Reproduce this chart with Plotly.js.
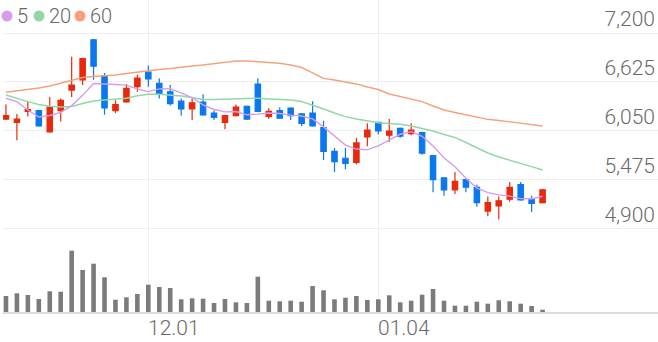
<!DOCTYPE html>
<html><head><meta charset="utf-8">
<script src="https://cdn.plot.ly/plotly-3.0.1.min.js"></script>
<style>html,body{margin:0;padding:0;background:#fff;}#chart{width:658px;height:342px;}</style>
</head><body><div id="chart"></div>
<script>
const dates = ['11.12','11.13','11.16','11.17','11.18','11.19','11.20','11.23','11.24','11.25','11.26','11.27','11.30',
'12.01','12.02','12.03','12.04','12.07','12.08','12.09','12.10','12.11','12.14','12.15','12.16','12.17','12.18','12.21','12.22','12.23','12.24','12.28','12.29','12.30',
'01.04','01.05','01.06','01.07','01.08','01.11','01.12','01.13','01.14','01.15','01.18','01.19','01.20','01.21','01.22','01.25'];
const open  = [6190,6150,6280,6290,6040,6290,6530,6650,7120,6700,6290,6390,6570,6740,6610,6510,6400,6310,6390,6260,6150,6230,6340,6600,6220,6290,6320,6250,6260,6090,5810,5730,5680,5980,6150,6000,6080,6020,6030,5760,5500,5360,5480,5390,5110,5170,5250,5420,5250,5210];
const high  = [6360,6250,6390,6300,6450,6430,6920,6910,7130,6730,6410,6600,6710,6820,6670,6590,6430,6430,6480,6290,6240,6360,6350,6670,6320,6330,6330,6260,6400,6170,5850,5850,5970,6140,6150,6190,6090,6140,6040,5760,5500,5570,5490,5420,5280,5280,5450,5450,5290,5370];
const low   = [6180,5940,6220,6100,6030,6160,6450,6590,6650,6240,6260,6380,6510,6570,6430,6350,6230,6180,6230,6180,6070,6220,6180,6270,6190,6200,6180,6110,6100,5710,5570,5600,5660,5870,6010,5920,5970,6000,5770,5330,5290,5310,5330,5160,5050,5010,5220,5230,5100,5200];
const close = [6230,6190,6300,6110,6330,6410,6590,6900,6810,6320,6360,6550,6670,6660,6480,6370,6310,6380,6240,6210,6230,6330,6190,6280,6280,6200,6230,6140,6110,5810,5690,5670,5910,6060,6050,6050,5990,6060,5790,5480,5360,5460,5390,5210,5210,5230,5390,5240,5200,5360];
const volume = [160000,187000,170000,130000,207000,203000,613000,420000,483000,347000,123000,147000,180000,273000,250000,240000,127000,137000,133000,90000,130000,97000,90000,353000,113000,107000,113000,103000,260000,217000,127000,143000,160000,120000,127000,167000,97000,113000,173000,230000,113000,63000,63000,103000,83000,117000,107000,83000,60000,23000];
const ma5  = [6434,6394,6296,6214,6232,6268,6348,6468,6608,6606,6596,6588,6542,6512,6544,6546,6498,6440,6356,6302,6274,6278,6240,6248,6262,6256,6236,6226,6192,6098,5996,5884,5838,5828,5876,5948,6012,6042,5988,5874,5736,5630,5496,5380,5326,5300,5286,5256,5254,5284];
const ma20 = [6472,6431,6394,6361,6340,6332,6338,6373,6402,6414,6420,6434,6464,6481,6481,6472,6461,6443,6420,6420,6423,6426,6431,6434,6426,6420,6414,6396,6355,6308,6261,6218,6191,6167,6147,6138,6129,6109,6082,6050,6009,5974,5915,5851,5792,5745,5710,5669,5631,5592];
const ma60 = [6504,6519,6535,6555,6578,6613,6649,6678,6690,6695,6707,6725,6742,6760,6772,6784,6801,6813,6825,6842,6860,6871,6871,6860,6852,6845,6825,6795,6731,6668,6649,6629,6602,6566,6537,6484,6453,6426,6394,6343,6296,6267,6238,6208,6187,6173,6159,6144,6126,6109];
const priceTicks = [4900,5475,6050,6625,7200];
const dateTicks = ['12.01','01.04'];
const legendLabels = ['5','20','60'];

const RED = '#e8290b', BLUE = '#0a78ee';
const maColors = ['#d59cf0','#8fd9a3','#f6a07c'];

const traces = [
  {type:'bar', x:dates, y:volume, xaxis:'x', yaxis:'y2', marker:{color:'#7b7b7b'}, width:0.42, hoverinfo:'skip'},
  {type:'scatter', mode:'lines', x:dates, y:ma60, line:{color:maColors[2], width:1.4}, hoverinfo:'skip'},
  {type:'scatter', mode:'lines', x:dates, y:ma20, line:{color:maColors[1], width:1.4}, hoverinfo:'skip'},
  {type:'scatter', mode:'lines', x:dates, y:ma5, line:{color:maColors[0], width:1.4}, hoverinfo:'skip'},
  {type:'candlestick', x:dates, open:open, high:high, low:low, close:close,
   increasing:{line:{color:RED, width:1.2}, fillcolor:RED},
   decreasing:{line:{color:BLUE, width:1.2}, fillcolor:BLUE},
   whiskerwidth:0, hoverinfo:'skip'}
];

const L = 3, W = 655, H = 312;
const annotations = [];
const shapes = [];
const legendX = [7, 39, 80];
legendLabels.forEach((lab,i)=>{
  shapes.push({type:'circle', xref:'paper', yref:'paper', xsizemode:'pixel', ysizemode:'pixel',
    xanchor:(legendX[i]-L)/W, yanchor:1-16/H, x0:-5.5, x1:5.5, y0:-5.5, y1:5.5,
    fillcolor:maColors[i], line:{width:0}});
  annotations.push({xref:'paper', yref:'paper', x:(legendX[i]+8-L)/W, y:1-16/H, xanchor:'left', yanchor:'middle',
    text:lab, showarrow:false, font:{size:20, color:'#666', weight:300}});
});
dateTicks.forEach(t=>{
  annotations.push({xref:'x', yref:'paper', x:dates.indexOf(t), y:1-328/H, xanchor:'left', yanchor:'middle',
    xshift:-2, text:t, showarrow:false, font:{size:21, color:'#6a6a6a', weight:300}});
});

const layout = {
  width:658, height:342, margin:{l:L, r:0, t:0, b:30},
  paper_bgcolor:'#fff', plot_bgcolor:'#fff', showlegend:false,
  font:{family:'Roboto, sans-serif', color:'#6a6a6a'},
  xaxis:{type:'category', range:[-0.27,59.54], tickvals:dateTicks, showticklabels:false,
    showgrid:true, gridcolor:'#eeeeee', gridwidth:1, showline:true, linecolor:'#dcdcdc', linewidth:1.5,
    ticks:'', anchor:'y2', rangeslider:{visible:false}, fixedrange:true, zeroline:false},
  yaxis:{domain:[0.2308,1], range:[4770.9,7587.2], side:'right', tickvals:priceTicks, tickformat:',d',
    ticklabelposition:'inside top', showgrid:true, gridcolor:'#eeeeee', gridwidth:1, zeroline:false,
    ticks:'', tickfont:{size:21, color:'#6a6a6a', weight:300}, fixedrange:true},
  yaxis2:{domain:[0,0.2308], range:[0,720000], showgrid:false, showticklabels:false, zeroline:false, fixedrange:true},
  annotations:annotations, shapes:shapes
};
Plotly.newPlot('chart', traces, layout, {displayModeBar:false, staticPlot:true});
</script></body></html>
